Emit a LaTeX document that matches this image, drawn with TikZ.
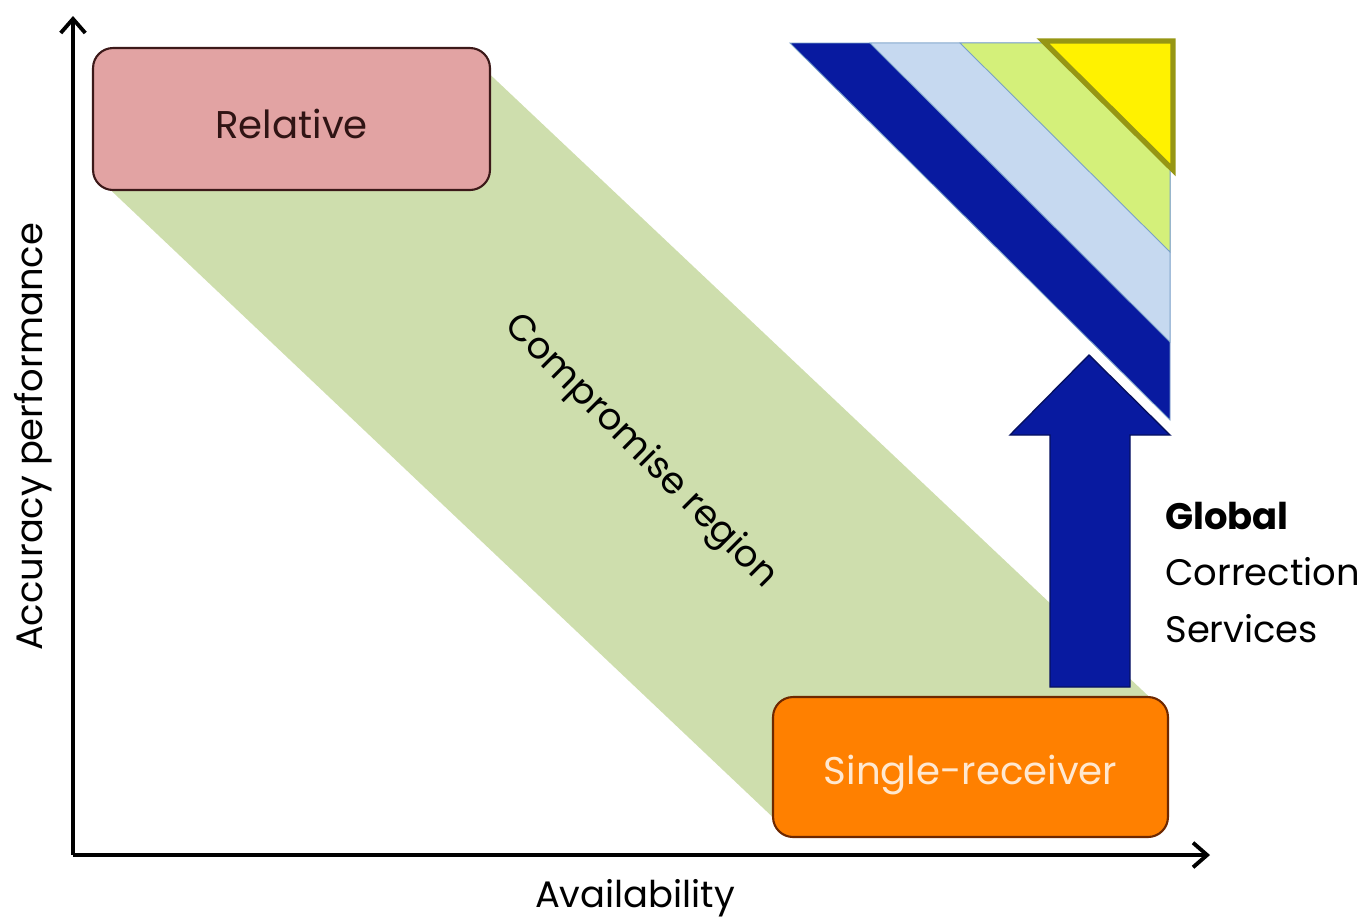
\documentclass[tikz,border=0pt]{standalone}
\usepackage{fontspec}
\setmainfont{Poppins}
\usetikzlibrary{arrows.meta}
\definecolor{relpink}{RGB}{226,163,163}
\definecolor{relborder}{RGB}{60,25,25}
\definecolor{srorange}{RGB}{255,128,0}
\definecolor{srborder}{RGB}{110,40,0}
\definecolor{srtext}{RGB}{255,232,208}
\definecolor{bandgreen}{RGB}{206,222,173}
\definecolor{darkblue}{RGB}{8,26,160}
\definecolor{lightblue}{RGB}{198,217,240}
\definecolor{limegreen}{RGB}{212,240,122}
\definecolor{brightyellow}{RGB}{255,242,0}
\definecolor{olive}{RGB}{150,150,20}
\definecolor{bandline}{RGB}{120,160,200}
\tikzset{
  regionbox/.style={draw, line width=1.2pt, rounded corners=0.4cm, inner sep=0pt, font=\fontsize{22}{26}\selectfont},
  axisline/.style={line width=2.2pt, -{Straight Barb[length=8pt,width=14pt,line width=2.2pt]}},
  labeltext/.style={font=\fontsize{21}{32}\selectfont, inner sep=0pt},
}
\begin{document}
\begin{tikzpicture}[x=0.02cm,y=-0.02cm]
\useasboundingbox (0,0) rectangle (1365,921);
% compromise band
\fill[bandgreen] (100,180) -- (480,65) -- (1160,707) -- (780,824) -- cycle;
% triangle bands
\filldraw[fill=darkblue, draw=bandline, line width=0.5pt] (790,43) -- (1170,43) -- (1170,420) -- cycle;
\filldraw[fill=lightblue, draw=bandline, line width=0.5pt] (870,43) -- (1170,43) -- (1170,342) -- cycle;
\filldraw[fill=limegreen, draw=bandline, line width=0.5pt] (960,43) -- (1170,43) -- (1170,252) -- cycle;
\filldraw[fill=brightyellow, draw=olive, line width=3pt, line join=miter] (1043,41) -- (1173,41) -- (1173,170) -- cycle;
% boxes
\node[regionbox, fill=relpink, draw=relborder, text=relborder!80!black, minimum width=7.94cm, minimum height=2.84cm, text height=22pt, text depth=0pt] (rel) at (291.5,119) {Relative};
\node[regionbox, fill=srorange, draw=srborder, text=srtext, minimum width=7.9cm, minimum height=2.8cm, text height=20pt, text depth=0pt] (single) at (970.5,767) {Single-receiver};
% compromise text
\node[labeltext, rotate=-45] (comp) at (640,452) {Compromise region};
% block arrow
\coordinate (arrowtip) at (1089,355);
\filldraw[fill=darkblue, draw=darkblue!60!black, line width=0.8pt, line join=miter]
  (1050,687) -- (1050,435) -- (1010,435) -- (arrowtip) -- (1170,435) -- (1130,435) -- (1130,687) -- cycle;
% global correction services
\node[labeltext, anchor=north west, align=left] (gcs) at (1165,502) {\textbf{Global}\\Correction\\Services};
% axes
\coordinate (origin) at (73,855);
\coordinate (ytop) at (73,16);
\coordinate (xend) at (1210,855);
\draw[axisline] (origin) -- (ytop);
\draw[axisline] (origin) -- (xend);
\node[labeltext, rotate=90] (ylab) at (33,437) {Accuracy performance};
\node[labeltext] (xlab) at (635,898) {Availability};
\end{tikzpicture}
\end{document}
